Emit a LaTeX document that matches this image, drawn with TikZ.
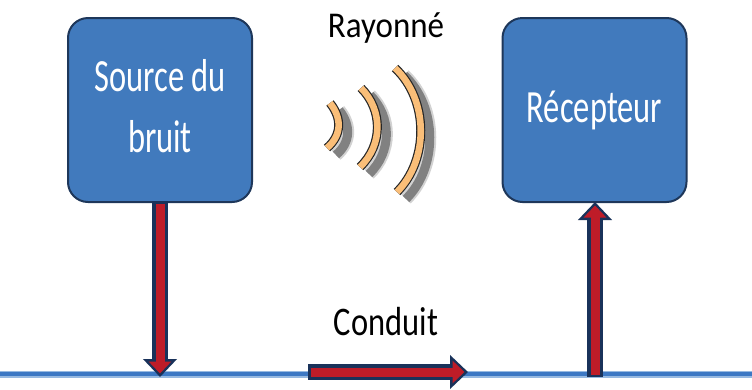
\documentclass[tikz,border=0pt]{standalone}
\usepackage{fontspec}
\setmainfont{Carlito}
\usetikzlibrary{arrows.meta}
\definecolor{boxfill}{RGB}{65,122,189}
\definecolor{boxdraw}{RGB}{30,55,90}
\definecolor{navy}{RGB}{25,50,90}
\definecolor{arrred}{RGB}{190,28,40}
\definecolor{linblue}{RGB}{60,120,196}
\definecolor{linlight}{RGB}{150,185,225}
\definecolor{waveor}{RGB}{250,190,120}
\tikzset{
  blockbox/.style={draw=boxdraw, line width=2pt, fill=boxfill, rounded corners=20pt,
    minimum width=184pt, minimum height=184pt, text=white, inner sep=0pt},
  outerarrow/.style={draw=navy, line width=16pt, -{Triangle[width=33pt,length=18pt]}},
  innerarrow/.style={draw=arrred, line width=9pt, -{Triangle[width=22pt,length=12pt]}, shorten >=3.5pt, shorten <=2.5pt},
  lbl/.style={inner sep=0pt, text=black},
  waveshadowa/.style={draw=black!35, line width=13pt, opacity=0.5},
  waveshadow/.style={draw=black!55, line width=9pt, opacity=0.85},
  waveout/.style={draw=black!85, line width=9pt},
  wavein/.style={draw=waveor, line width=6.6pt},
}
\begin{document}
\begin{tikzpicture}[x=1pt,y=-1pt]
\useasboundingbox (0,0) rectangle (752,389);
% ground line
\coordinate (gl) at (0,374);
\coordinate (gr) at (752,374);
\draw[linlight, line width=7pt] (gl) -- (gr);
\draw[linblue, line width=4pt] (gl) -- (gr);
% boxes
\node[blockbox] (src) at (160,110) {\fontsize{32.5}{42}\selectfont\scalebox{1}[1.42]{\begin{tabular}{@{}c@{}}Source du\\[1pt]bruit\end{tabular}}};
\node[blockbox] (rec) at (594.5,110) {\fontsize{32.5}{42}\selectfont\scalebox{1}[1.42]{R\'ecepteur}};
% labels
\node[lbl] (ray) at (386,28) {\fontsize{33}{38}\selectfont\scalebox{1}[1.1]{Rayonn\'e}};
\node[lbl] (cond) at (386,322) {\fontsize{32.5}{38}\selectfont\scalebox{1}[1.25]{Conduit}};
% coordinates for arrows
\coordinate (srcbot) at (160,201);
\coordinate (lefttip) at (160,377);
\coordinate (recline) at (595,377);
\coordinate (rectip) at (595,202);
\coordinate (cstart) at (308,372);
\coordinate (cend) at (468,372);
% arrows
\draw[outerarrow] (srcbot) -- (lefttip);
\draw[innerarrow] (srcbot) -- (lefttip);
\draw[outerarrow] (recline) -- (rectip);
\draw[innerarrow] (recline) -- (rectip);
\draw[outerarrow] (cstart) -- (cend);
\draw[innerarrow] (cstart) -- (cend);
% waves
\begin{scope}[shift={(9,7)}]
\draw[waveshadowa] (330,103) .. controls (342,118) and (342,135) .. (327,148);
\draw[waveshadowa] (361,88) .. controls (383,110) and (383,145) .. (360,167);
\draw[waveshadowa] (395,68) .. controls (429,100) and (429,160) .. (397,192);
\draw[waveshadow] (330,103) .. controls (342,118) and (342,135) .. (327,148);
\draw[waveshadow] (361,88) .. controls (383,110) and (383,145) .. (360,167);
\draw[waveshadow] (395,68) .. controls (429,100) and (429,160) .. (397,192);
\end{scope}
\draw[waveout] (330,103) .. controls (342,118) and (342,135) .. (327,148);
\draw[wavein] (330,103) .. controls (342,118) and (342,135) .. (327,148);
\draw[waveout] (361,88) .. controls (383,110) and (383,145) .. (360,167);
\draw[wavein] (361,88) .. controls (383,110) and (383,145) .. (360,167);
\draw[waveout] (395,68) .. controls (429,100) and (429,160) .. (397,192);
\draw[wavein] (395,68) .. controls (429,100) and (429,160) .. (397,192);
\end{tikzpicture}
\end{document}
